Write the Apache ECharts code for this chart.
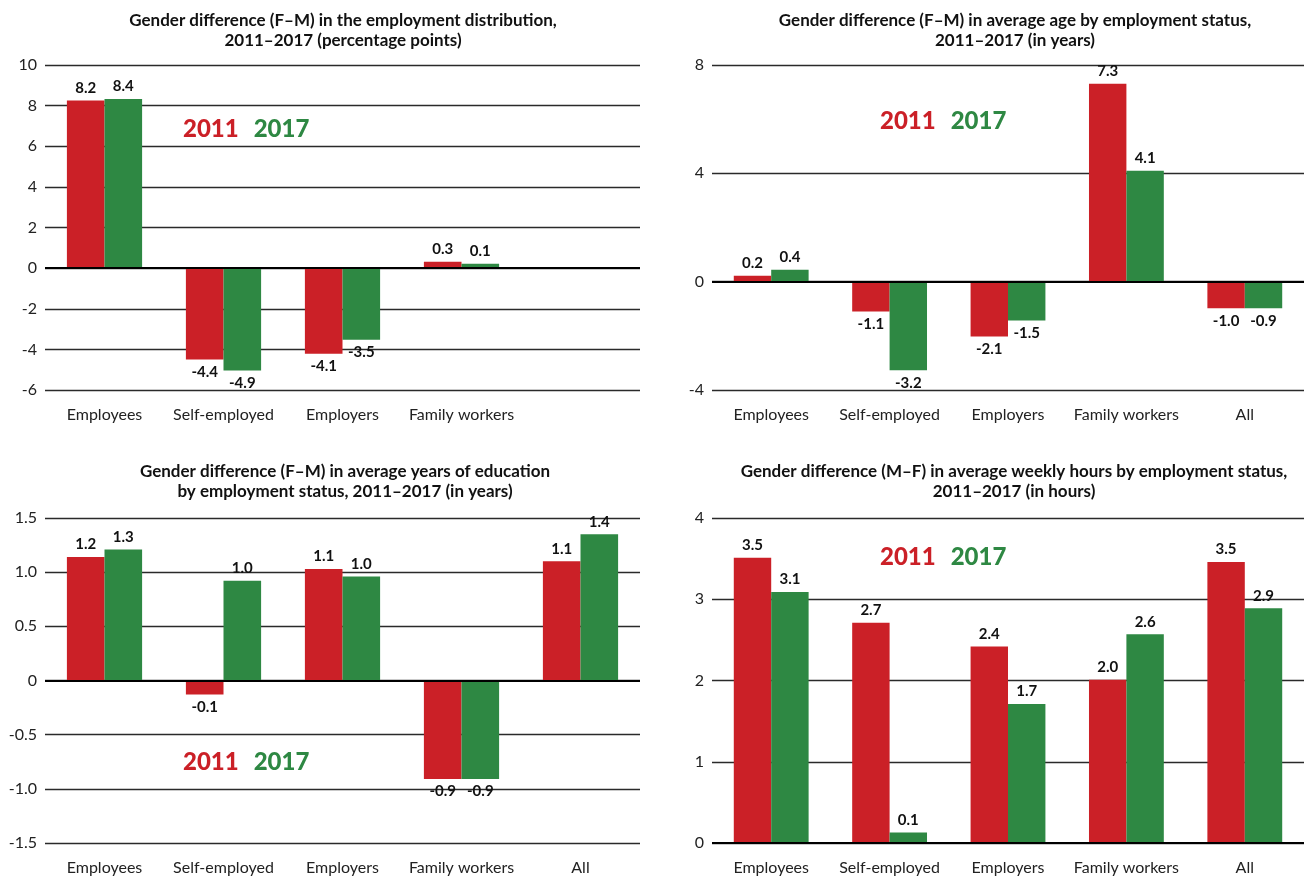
<!DOCTYPE html>
<html lang="en">
<head>
<meta charset="UTF-8">
<title>Gender differences by employment status, 2011-2017</title>
<script src="https://cdn.jsdelivr.net/npm/echarts@6/dist/echarts.min.js"></script>
<style>html, body { margin: 0; padding: 0; background: #fff; }</style>
</head>
<body>
<div id="main" style="width: 1308px; height: 880px;"></div>
<script>
// categories
var categories = ['Employees', 'Self-employed', 'Employers', 'Family workers', 'All'];
// first panel has no "All" group, its slot stays empty
var distCategories = ['Employees', 'Self-employed', 'Employers', 'Family workers', ''];

// panel 1: employment distribution (percentage points)
var dist2011 = [8.25, -4.5, -4.22, 0.31];
var dist2017 = [8.33, -5.04, -3.53, 0.21];
var dist2011Labels = ['8.2', '-4.4', '-4.1', '0.3'];
var dist2017Labels = ['8.4', '-4.9', '-3.5', '0.1'];

// panel 2: average age (years)
var age2011 = [0.22, -1.1, -2.02, 7.31, -0.98];
var age2017 = [0.44, -3.27, -1.43, 4.1, -0.98];
var age2011Labels = ['0.2', '-1.1', '-2.1', '7.3', '-1.0'];
var age2017Labels = ['0.4', '-3.2', '-1.5', '4.1', '-0.9'];

// panel 3: years of education
var edu2011 = [1.14, -0.13, 1.03, -0.91, 1.1];
var edu2017 = [1.21, 0.92, 0.96, -0.91, 1.35];
var edu2011Labels = ['1.2', '-0.1', '1.1', '-0.9', '1.1'];
var edu2017Labels = ['1.3', '1.0', '1.0', '-0.9', '1.4'];

// panel 4: weekly hours (M-F)
var hours2011 = [3.51, 2.71, 2.42, 2.01, 3.46];
var hours2017 = [3.09, 0.13, 1.71, 2.57, 2.89];
var hours2011Labels = ['3.5', '2.7', '2.4', '2.0', '3.5'];
var hours2017Labels = ['3.1', '0.1', '1.7', '2.6', '2.9'];

var RED = '#cb2027';
var GREEN = '#2e8843';
var FONT = 'Lato';

var myChart = echarts.init(document.getElementById('main'));

// grid boxes: [left, top, width, height]
var boxes = [
    [45, 65, 595, 325],
    [712, 65, 592, 325],
    [45, 518, 595, 325],
    [712, 518, 592, 325]
];
var titles = [
    'Gender difference (F\u2013M) in the employment distribution,\n2011\u20132017 (percentage points)',
    'Gender difference (F\u2013M) in average age by employment status,\n2011\u20132017 (in years)',
    'Gender difference (F\u2013M) in average years of education\nby employment status, 2011\u20132017 (in years)',
    'Gender difference (M\u2013F) in average weekly hours by employment status,\n2011\u20132017 (in hours)'
];
var titleTops = [6, 6, 457, 457];
var titleCenters = [338, 1010, 340, 1009];
var yRanges = [[-6, 10, 2], [-4, 8, 4], [-1.5, 1.5, 0.5], [0, 4, 1]];
var legendPos = [[173, 112], [870, 104], [173, 745], [870, 540]];
var panelCats = [distCategories, categories, categories, categories];
var panelData = [
    [dist2011, dist2017, dist2011Labels, dist2017Labels],
    [age2011, age2017, age2011Labels, age2017Labels],
    [edu2011, edu2017, edu2011Labels, edu2017Labels],
    [hours2011, hours2017, hours2011Labels, hours2017Labels]
];

function barData(values, labels) {
    return values.map(function (v, i) {
        return {
            value: v,
            label: { position: v < 0 ? 'bottom' : 'top', formatter: labels[i] }
        };
    });
}

var option = {
    backgroundColor: '#fff',
    animation: false,
    title: [],
    legend: [],
    grid: [],
    xAxis: [],
    yAxis: [],
    series: []
};

for (var p = 0; p < 4; p++) {
    var b = boxes[p];
    option.title.push({
        text: titles[p],
        left: titleCenters[p],
        top: titleTops[p],
        textAlign: 'center',
        textStyle: { fontFamily: FONT, fontSize: 17, fontWeight: 'bold', color: '#111', lineHeight: 20 }
    });
    option.legend.push({
        left: legendPos[p][0],
        top: legendPos[p][1],
        icon: 'none',
        itemWidth: 0,
        itemHeight: 0,
        itemGap: 10,
        selectedMode: false,
        data: [
            { name: '2011', textStyle: { color: RED } },
            { name: '2017', textStyle: { color: GREEN } }
        ],
        textStyle: { fontFamily: FONT, fontSize: 24, fontWeight: 900 }
    });
    option.grid.push({ left: b[0], top: b[1], width: b[2], height: b[3] });
    option.xAxis.push({
        type: 'category',
        gridIndex: p,
        data: panelCats[p],
        axisLine: { show: false },
        axisTick: { show: false },
        axisLabel: { fontFamily: FONT, fontSize: 16, color: '#222', margin: 17, interval: 0 }
    });
    option.yAxis.push({
        type: 'value',
        gridIndex: p,
        min: yRanges[p][0],
        max: yRanges[p][1],
        interval: yRanges[p][2],
        axisLine: { show: false },
        axisTick: { show: false },
        axisLabel: {
            fontFamily: FONT, fontSize: 16, color: '#222', margin: 8,
            formatter: p === 2 ? function (v) { return v === 0 ? '0' : v.toFixed(1); } : null
        },
        splitLine: { lineStyle: { color: '#2a2a2a', width: 1.4 } }
    });
    var d = panelData[p];
    var labelStyle = { show: true, fontFamily: FONT, fontSize: 15, fontWeight: 'bold', color: '#111', distance: 5 };
    option.series.push({
        name: '2011',
        type: 'bar',
        xAxisIndex: p,
        yAxisIndex: p,
        data: barData(d[0], d[2]),
        itemStyle: { color: RED },
        barWidth: '31.6%',
        barGap: '0%',
        label: labelStyle,
        markLine: {
            silent: true,
            symbol: 'none',
            label: { show: false },
            lineStyle: { color: '#000', width: 2, type: 'solid' },
            data: [{ yAxis: 0 }]
        }
    });
    option.series.push({
        name: '2017',
        type: 'bar',
        xAxisIndex: p,
        yAxisIndex: p,
        data: barData(d[1], d[3]),
        itemStyle: { color: GREEN },
        barWidth: '31.6%',
        barGap: '0%',
        label: labelStyle
    });
}

myChart.setOption(option);
</script>
</body>
</html>
